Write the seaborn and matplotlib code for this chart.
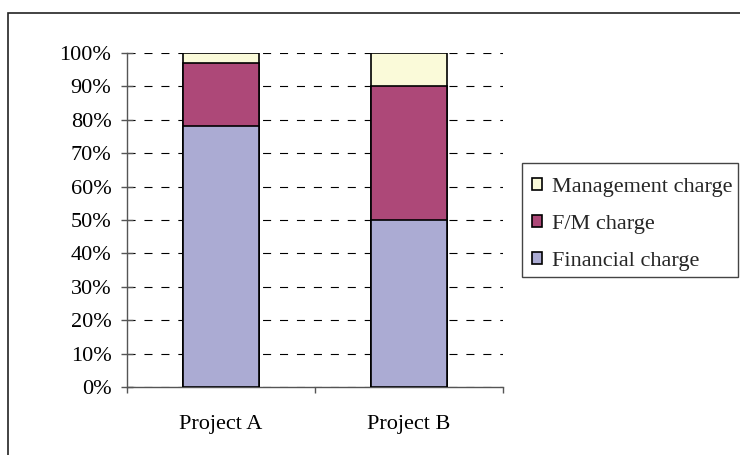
import matplotlib
matplotlib.use("Agg")
import matplotlib.pyplot as plt
from matplotlib.patches import Rectangle, Patch
from matplotlib.ticker import FixedLocator, PercentFormatter
import numpy as np
import pandas as pd
import seaborn as sns

# Cost structure of each project, as a share of the total charge
projects = ["Project A", "Project B"]
financial = [0.78, 0.50]
fm = [0.19, 0.40]
management = [0.03, 0.10]

components = ["Management charge", "F/M charge", "Financial charge"]
colors = {"Financial charge": "#ABABD3",
          "F/M charge": "#AD4878",
          "Management charge": "#FAFAD9"}

sns.set_theme(style="white")
plt.rcParams["font.family"] = ["Liberation Serif", "DejaVu Serif"]
plt.rcParams["lines.scale_dashes"] = False

W, H = 740, 455
fig = plt.figure(figsize=(W / 100, H / 100), dpi=100)
ax = fig.add_axes([127 / W, 1 - 387 / H, 376 / W, 334 / H])

# Cumulative tops for stacking: draw the tallest layer first
fin = np.array(financial)
top_fm = fin + np.array(fm)
top_mg = top_fm + np.array(management)
layers = [("Management charge", top_mg),
          ("F/M charge", top_fm),
          ("Financial charge", fin)]

for name, tops in layers:
    df = pd.DataFrame({"project": projects, "share": tops})
    sns.barplot(data=df, x="project", y="share", color=colors[name],
                saturation=1, width=0.4, edgecolor="black", linewidth=1.2,
                ax=ax, zorder=3)

ax.set_xlim(-0.5, 1.5)
ax.set_ylim(0, 1)
ax.set_xlabel("")
ax.set_ylabel("")

# Percentage axis with dashed gridlines
ax.yaxis.set_major_locator(FixedLocator(np.arange(0, 1.01, 0.1)))
ax.yaxis.set_major_formatter(PercentFormatter(1.0, decimals=0))
ax.grid(axis="y", color="black", linewidth=0.8, linestyle=(0, (5.8, 6.4)),
        zorder=0)
ax.set_axisbelow(True)

for side in ("top", "right"):
    ax.spines[side].set_visible(False)
for side in ("left", "bottom"):
    ax.spines[side].set_color("#555555")
    ax.spines[side].set_linewidth(1.0)

ax.tick_params(axis="y", which="major", direction="inout", length=8.5,
               width=1.0, color="#555555", labelsize=16, pad=7, left=True)
ax.tick_params(axis="x", which="major", length=0, labelsize=16, pad=20)
ax.xaxis.set_minor_locator(FixedLocator([-0.5, 0.5, 1.5]))
ax.tick_params(axis="x", which="minor", direction="out", length=4.5,
               width=1.0, color="#555555", bottom=True)
for lbl in ax.get_yticklabels() + ax.get_xticklabels():
    lbl.set_color("black")

# Legend entries, with their own box drawn around them
handles = [Patch(facecolor=colors[c], edgecolor="black", linewidth=1.2)
           for c in components]
leg = fig.legend(handles, components, loc="upper left",
                 bbox_to_anchor=(532 / W, 1 - 178 / H),
                 bbox_transform=fig.transFigure, fontsize=16,
                 frameon=False, borderaxespad=0, borderpad=0,
                 handlelength=0.46, handleheight=0.46, handletextpad=0.45,
                 labelspacing=0.8)
fig.add_artist(Rectangle((522 / W, 1 - 277 / H), 216 / W, 114 / H,
                         transform=fig.transFigure, fill=False,
                         edgecolor="#444444", linewidth=1.0))

# Chart border (left and top edges)
fig.add_artist(Rectangle((8 / W, -0.2), 1.5, 0.2 + (1 - 13 / H),
                         transform=fig.transFigure, fill=False,
                         edgecolor="#222222", linewidth=1.2))

fig.savefig("out.png", dpi=100)
